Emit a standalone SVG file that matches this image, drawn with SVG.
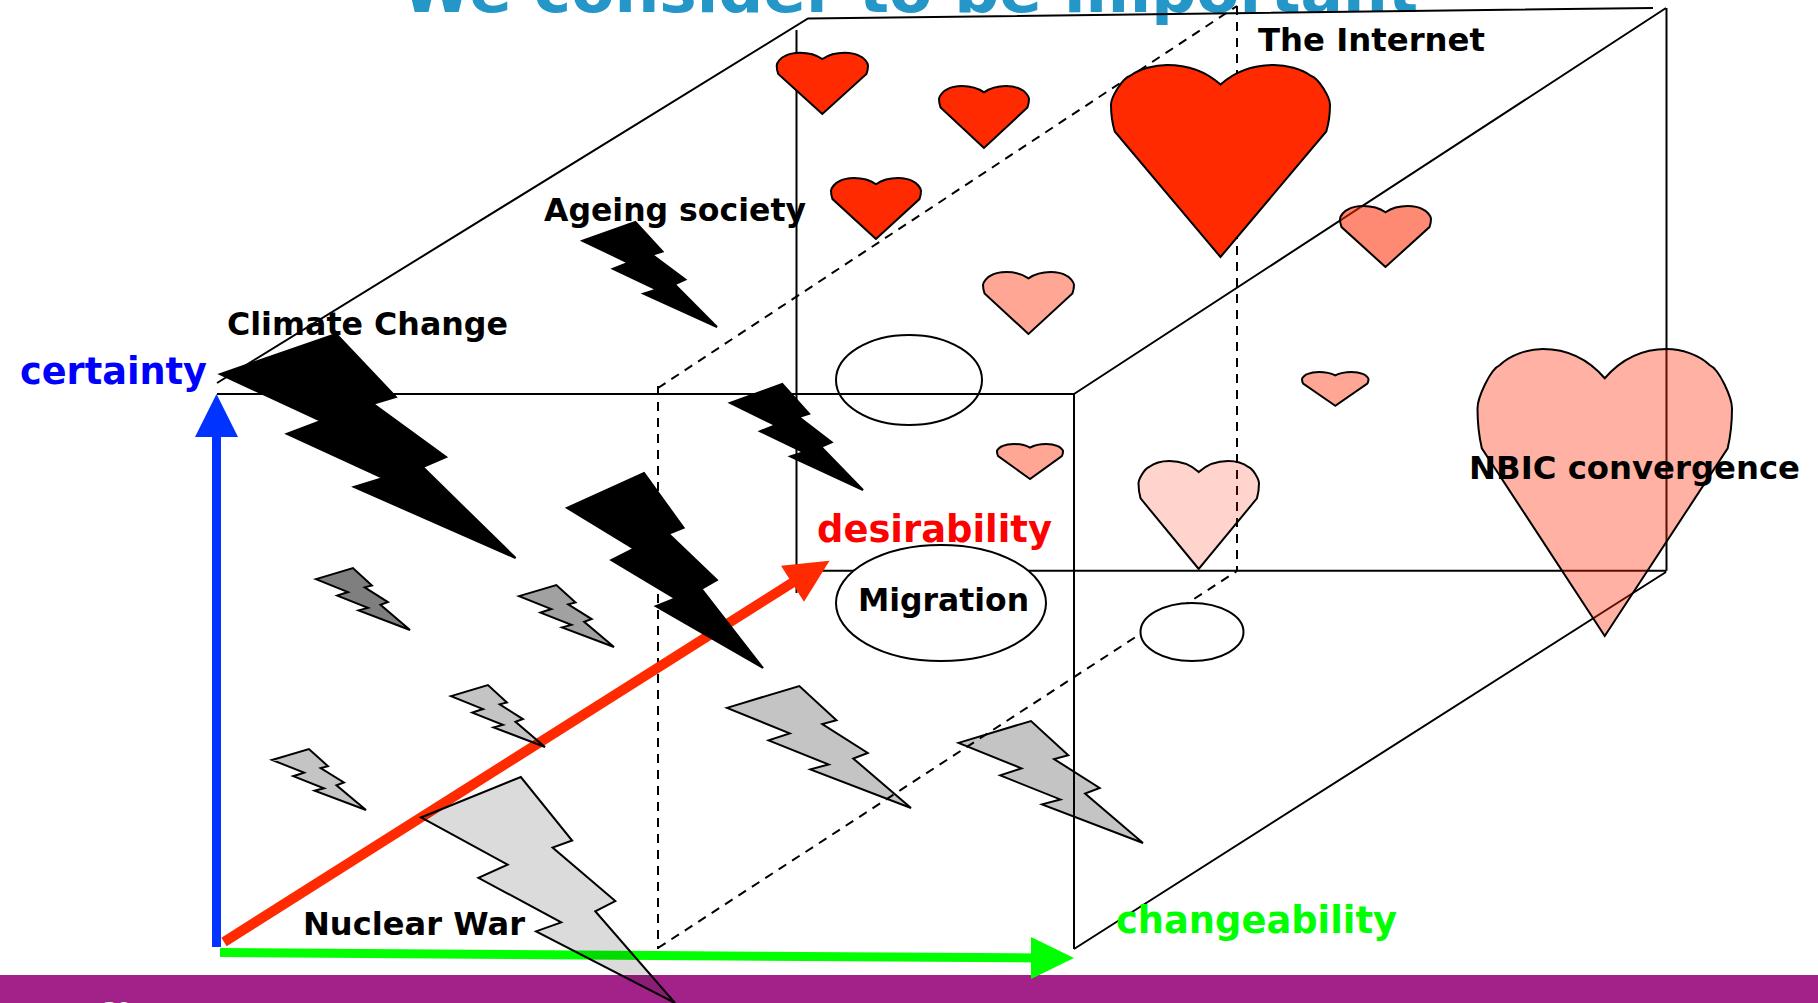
<svg xmlns="http://www.w3.org/2000/svg" width="1818" height="1003" viewBox="0 0 1818 1003">
<style>
text{font-family:"DejaVu Sans",Verdana,sans-serif;font-weight:bold}
.lb{font-size:32px;fill:#000}
.ax{font-size:37px}
.e{stroke:#000;stroke-width:2;fill:none}
.d{stroke:#000;stroke-width:2;fill:none;stroke-dasharray:9 7}
.b{fill:#000;stroke:#000;stroke-width:2}
.h{fill:#ff2a00;stroke:#000;stroke-width:2}
.ns{vector-effect:non-scaling-stroke}
</style>
<defs>
<polygon id="bolt" class="ns" points="0,17.900 39.300,0 59.500,28.100 51.800,31.200 76.500,54.900 68.600,59.400 100,100 45.300,68.300 55.200,64.300 22.600,44.600 34.100,38.800"/>
<path id="heart" class="ns" d="M50 100L1.700 34.600C.5 30 0 25 0 20.700C0 17 5 7 8.800 5.600C13 2 20 0 25.600 0C35 0 43 3 50 10.200C57 3 65 0 74.400 0C80 0 87 2 91.200 5.600C95 7 100 17 100 20.700C100 25 99.500 30 98.300 34.600Z"/>
</defs>
<rect width="1818" height="1003" fill="#fff"/>
<text id="title" x="402" y="12" font-size="63" fill="#2496c8" textLength="1016" lengthAdjust="spacingAndGlyphs">We consider to be important</text>
<rect id="band" y="975" width="1818" height="28" fill="#a3228a"/>
<text id="page" x="103" y="1016" font-size="20" style="fill:#fff">30</text>
<g id="connectors">
<path class="e" d="M217 394H1074V949M1074 394L1666 8M1074 949L1666 572M217 383L808 18.500L1653 8M796.500 30V593M796.500 570.700H1666.500M1666.500 8V570.700"/>
<path class="d" d="M658 386V949M658 388L1237 6M1237 6V571M658 948L1237 571"/>
</g>
<g id="axes">
<path d="M216.500 947V430" stroke="#0033ff" stroke-width="9" fill="none"/>
<polygon points="216.500,394 238,437 195,437" fill="#0033ff"/>
<path d="M224 942L795 581" stroke="#ff2a00" stroke-width="10" fill="none"/>
<polygon points="829.500,560.700 781,565.700 804,601.700" fill="#ff2a00"/>
<path d="M220 952.500L1040 958" stroke="#00ff00" stroke-width="9" fill="none"/>
<polygon points="1074,958 1031,937 1031,979" fill="#00ff00"/>
</g>
<g id="ellipses">
<ellipse id="e1" class="e" cx="909" cy="380" rx="73" ry="45"/>
<ellipse id="e2" class="e" cx="941" cy="603" rx="105" ry="58" style="fill:#fff"/>
<ellipse id="e3" class="e" cx="1192" cy="632" rx="51.500" ry="29" style="fill:#fff"/>
</g>
<g id="bolts">
<use id="b1" href="#bolt" class="b" transform="translate(220 334) scale(2.956 2.24)"/>
<use id="b2" href="#bolt" class="b" transform="translate(582.500 222) scale(1.345 1.05)"/>
<use id="b3" href="#bolt" class="b" transform="translate(730 384) scale(1.33 1.06)"/>
<use id="b4" href="#bolt" class="b" transform="translate(567 473) scale(1.96 1.95)"/>
<use id="b5" href="#bolt" class="b" style="fill-opacity:.5" transform="translate(316 568) scale(.94 .62)"/>
<use id="b6" href="#bolt" class="b" style="fill-opacity:.37" transform="translate(519 585) scale(.95 .62)"/>
<use id="b7" href="#bolt" class="b" style="fill-opacity:.23" transform="translate(451 685) scale(.94 .62)"/>
<use id="b8" href="#bolt" class="b" style="fill-opacity:.23" transform="translate(272 749) scale(.94 .61)"/>
<use id="b9" href="#bolt" class="b" style="fill-opacity:.23" transform="translate(727 686) scale(1.84 1.22)"/>
<use id="b10" href="#bolt" class="b" style="fill-opacity:.23" transform="translate(958.500 721) scale(1.845 1.22)"/>
<use id="b11" href="#bolt" class="b" style="fill-opacity:.14" transform="translate(421 777) scale(2.54 2.26)"/>
</g>
<g id="hearts">
<use id="h1" href="#heart" class="h" transform="translate(776.700 52.700) scale(.913 .613)"/>
<use id="h2" href="#heart" class="h" transform="translate(939 86) scale(.9 .62)"/>
<use id="h3" href="#heart" class="h" transform="translate(831 178) scale(.9 .61)"/>
<use id="h4" href="#heart" class="h" transform="translate(1111 65) scale(2.19 1.92)"/>
<use id="h5" href="#heart" class="h" style="fill-opacity:.55" transform="translate(1340 206) scale(.91 .61)"/>
<use id="h6" href="#heart" class="h" style="fill-opacity:.42" transform="translate(983 272) scale(.91 .62)"/>
<use id="h7" href="#heart" class="h" style="fill-opacity:.42" transform="translate(997 444) scale(.66 .35)"/>
<use id="h8" href="#heart" class="h" style="fill-opacity:.42" transform="translate(1302 372) scale(.665 .337)"/>
<use id="h9" href="#heart" class="h" style="fill-opacity:.2" transform="translate(1138.500 461) scale(1.205 1.08)"/>
<use id="h10" href="#heart" class="h" style="fill-opacity:.36" transform="translate(1477.500 349) scale(2.545 2.87)"/>
</g>
<g id="labels">
<text class="lb" x="1258" y="51" textLength="227" lengthAdjust="spacingAndGlyphs">The Internet</text>
<text class="lb" x="544" y="221" textLength="262" lengthAdjust="spacingAndGlyphs">Ageing society</text>
<text class="lb" x="227" y="335" textLength="281" lengthAdjust="spacingAndGlyphs">Climate Change</text>
<text class="lb" x="858" y="611" textLength="171" lengthAdjust="spacingAndGlyphs">Migration</text>
<text class="lb" x="1469" y="479" textLength="331" lengthAdjust="spacingAndGlyphs">NBIC convergence</text>
<text class="lb" x="303" y="935" textLength="222" lengthAdjust="spacingAndGlyphs">Nuclear War</text>
<text class="ax" x="20" y="384" textLength="187" lengthAdjust="spacingAndGlyphs" style="fill:#0000ff">certainty</text>
<text class="ax" x="817" y="542" textLength="235" lengthAdjust="spacingAndGlyphs" style="fill:#ff0000">desirability</text>
<text class="ax" x="1116" y="933" textLength="281" lengthAdjust="spacingAndGlyphs" style="fill:#00ff00">changeability</text>
</g>
</svg>
